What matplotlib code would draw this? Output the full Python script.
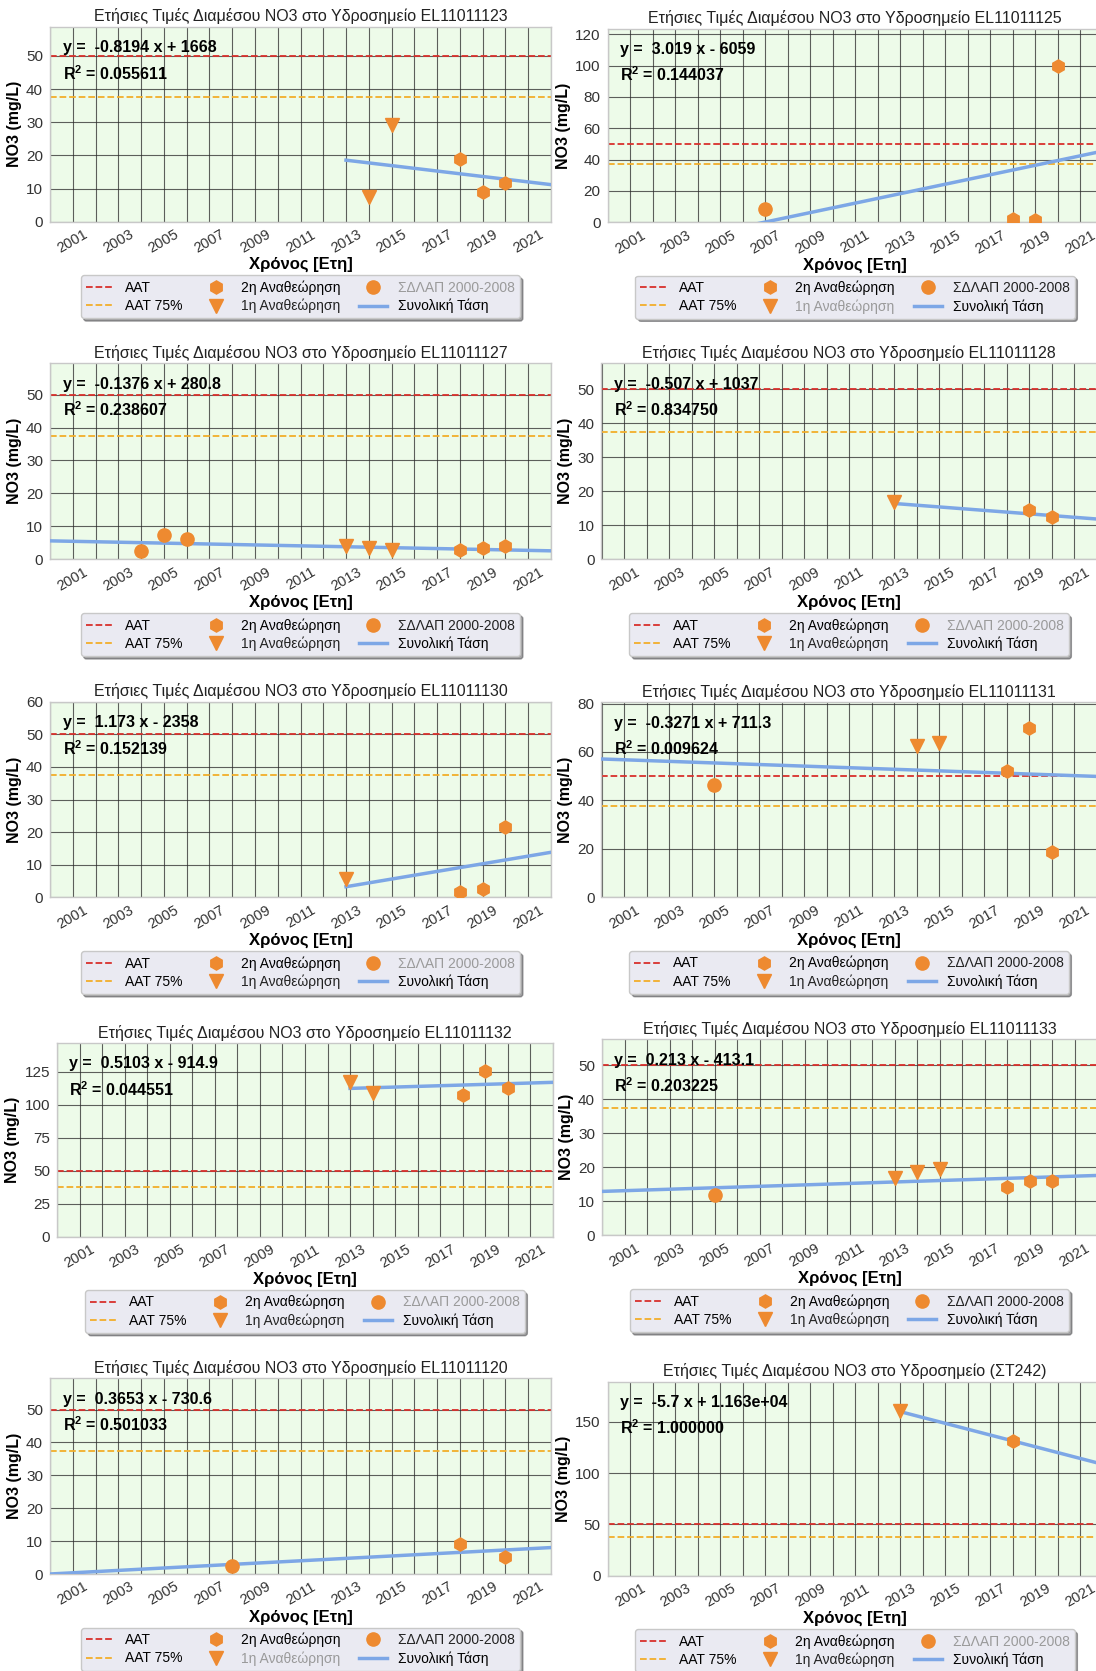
import numpy as np
import matplotlib
matplotlib.use('Agg')
import matplotlib.pyplot as plt
from matplotlib.lines import Line2D

plt.rcParams['font.family'] = ['Liberation Sans', 'DejaVu Sans']
plt.rcParams['mathtext.fontset'] = 'custom'
plt.rcParams['mathtext.rm'] = 'Liberation Sans'
plt.rcParams['mathtext.default'] = 'regular'

# stations, in drawing order (left/right, top to bottom)
stations = ['EL11011123', 'EL11011125', 'EL11011127', 'EL11011128', 'EL11011130',
            'EL11011131', 'EL11011132', 'EL11011133', 'EL11011120', '(ΣΤ242)']

# ΣΔΛΑΠ 2000-2008 medians
sdlap_years = {'EL11011125': [2007], 'EL11011127': [2004, 2005, 2006],
               'EL11011131': [2005], 'EL11011133': [2005], 'EL11011120': [2008]}
sdlap_vals = {'EL11011125': [8.3], 'EL11011127': [2.55, 7.45, 6.2],
              'EL11011131': [46.4], 'EL11011133': [11.9], 'EL11011120': [2.45]}

# 1st revision medians
rev1_years = {'EL11011123': [2014, 2015], 'EL11011127': [2013, 2014, 2015],
              'EL11011128': [2013], 'EL11011130': [2013], 'EL11011131': [2014, 2015],
              'EL11011132': [2013, 2014], 'EL11011133': [2013, 2014, 2015], '(ΣΤ242)': [2013]}
rev1_vals = {'EL11011123': [7.3, 29.2], 'EL11011127': [4.0, 3.4, 2.75],
             'EL11011128': [16.9], 'EL11011130': [5.6], 'EL11011131': [62.4, 63.7],
             'EL11011132': [117.4, 108.8], 'EL11011133': [16.8, 18.5, 19.4], '(ΣΤ242)': [160.0]}

# 2nd revision medians
rev2_years = {'EL11011123': [2018, 2019, 2020], 'EL11011125': [2018, 2019, 2020],
              'EL11011127': [2018, 2019, 2020], 'EL11011128': [2019, 2020],
              'EL11011130': [2018, 2019, 2020], 'EL11011131': [2018, 2019, 2020],
              'EL11011132': [2018, 2019, 2020], 'EL11011133': [2018, 2019, 2020],
              'EL11011120': [2018, 2020], '(ΣΤ242)': [2018]}
rev2_vals = {'EL11011123': [19.0, 8.9, 11.65], 'EL11011125': [2.1, 1.5, 100.0],
             'EL11011127': [2.95, 3.55, 4.0], 'EL11011128': [14.5, 12.45],
             'EL11011130': [1.5, 2.55, 21.5], 'EL11011131': [52.1, 69.8, 18.5],
             'EL11011132': [107.6, 125.8, 112.9], 'EL11011133': [14.3, 16.1, 15.9],
             'EL11011120': [9.0, 5.3], '(ΣΤ242)': [131.5]}

# linear trend of each station
slope = [-0.8194, 3.019, -0.1376, -0.507, 1.173, -0.3271, 0.5103, 0.213, 0.3653, -5.7]
intercept = [1668, -6059, 280.8, 1037, -2358, 711.3, -914.9, -413.1, -730.6, 11634]
r_squared = [0.055611, 0.144037, 0.238607, 0.834750, 0.152139,
             0.009624, 0.044551, 0.203225, 0.501033, 1.000000]
trend_start = [2013, 2000, 2000, 2013, 2013, 2000, 2013, 2000, 2000, 2013]

# y axis range and tick step
y_top = [58.7, 123.4, 59.5, 57.6, 60, 80.5, 146.5, 57.6, 59.5, 189]
y_step = [10, 20, 10, 10, 10, 20, 25, 10, 10, 50]

AAT = 50
AAT_75 = 0.75 * AAT
year_min, year_max = 2000, 2022

# axes boxes in pixels: left, top, right, bottom
W, H = 1096, 1671
boxes = [(50, 27, 551, 221.7), (607.5, 29, 1102.5, 222.3),
         (50, 363.3, 551, 559.3), (601.5, 363.3, 1096.5, 559.3),
         (50, 701.7, 551, 897.3), (601.5, 702.3, 1096.5, 897.3),
         (57, 1043.3, 553, 1236.7), (602, 1039.3, 1097, 1235.3),
         (50, 1378.3, 551, 1574), (607.5, 1381.7, 1102.5, 1575.7)]

orange = '#EE8A30'
blue = '#7DA7E6'
red = '#D8302C'
yellow = '#F2AE2A'
facecolor = '#EDFBE9'

fig = plt.figure(figsize=(W / 100, H / 100), dpi=100)

for i, st in enumerate(stations):
    l, t, r, b = boxes[i]
    ax = fig.add_axes([l / W, 1 - b / H, (r - l) / W, (b - t) / H])
    ax.set_facecolor(facecolor)

    ax.axhline(AAT, color=red, ls='--', lw=1.3, zorder=2)
    ax.axhline(AAT_75, color=yellow, ls='--', lw=1.3, zorder=2)

    xt = np.array([trend_start[i], year_max])
    ax.plot(xt, slope[i] * xt + intercept[i], color=blue, lw=2.5, zorder=3)

    has_sdlap = st in sdlap_years
    has_rev1 = st in rev1_years
    if has_sdlap:
        ax.plot(sdlap_years[st], sdlap_vals[st], ls='none', marker='o', ms=9.5,
                color=orange, zorder=4)
    if has_rev1:
        ax.plot(rev1_years[st], rev1_vals[st], ls='none', marker='v', ms=9.5,
                color=orange, zorder=4)
    ax.plot(rev2_years[st], rev2_vals[st], ls='none', marker='h', ms=9.5,
            color=orange, zorder=4)

    ax.set_xlim(year_min, year_max)
    ax.set_ylim(0, y_top[i])
    ax.set_yticks(np.arange(0, y_top[i] + 0.01, y_step[i]))
    ax.set_xticks(range(2001, 2022, 2))
    ax.set_xticks(range(2000, 2023, 2), minor=True)
    ax.tick_params(axis='x', which='both', length=0, labelsize=10.5,
                   labelcolor='#333333', labelrotation=30, pad=4)
    ax.tick_params(axis='y', length=0, labelsize=11, labelcolor='#333333', pad=5)
    ax.grid(True, which='both', axis='x', color='#2b2b2b', lw=0.8, alpha=0.75, zorder=1)
    ax.grid(True, which='major', axis='y', color='#2b2b2b', lw=0.8, alpha=0.75, zorder=1)
    ax.set_axisbelow(True)
    for sp in ax.spines.values():
        sp.set_color('#c8c8c8')
        sp.set_linewidth(1.0)

    ax.set_title('Ετήσιες Τιμές Διαμέσου NO3 στο Υδροσημείο ' + st,
                 fontsize=11.5, color='#222222', pad=4)
    ax.set_xlabel('Χρόνος [Ετη]', fontsize=12, fontweight='bold', labelpad=1)
    ax.set_ylabel('NO3 (mg/L)', fontsize=11.5, fontweight='bold', labelpad=3)

    sign = '+' if intercept[i] >= 0 else '-'
    eq = 'y =  %.4g x %s %.4g' % (slope[i], sign, abs(intercept[i]))
    ax.text(0.025, 0.893, eq, transform=ax.transAxes, fontsize=11.5,
            fontweight='bold', va='center', ha='left', zorder=5)
    ax.text(0.025, 0.762, 'R$^2$ = %.6f' % r_squared[i], transform=ax.transAxes,
            fontsize=11.5, fontweight='bold', va='center', ha='left', zorder=5)

    handles = [
        Line2D([], [], color=red, ls='--', lw=1.3),
        Line2D([], [], color=yellow, ls='--', lw=1.3),
        Line2D([], [], ls='none', marker='h', ms=9.5, color=orange),
        Line2D([], [], ls='none', marker='v', ms=9.5, color=orange),
        Line2D([], [], ls='none', marker='o', ms=9.5, color=orange),
        Line2D([], [], color=blue, lw=2.5),
    ]
    labels = ['ΑΑΤ', 'ΑΑΤ 75%', '2η Αναθεώρηση', '1η Αναθεώρηση',
              'ΣΔΛΑΠ 2000-2008', 'Συνολική Τάση']
    leg = ax.legend(handles, labels, ncol=3, loc='upper center',
                    bbox_to_anchor=(0.5, -0.24), fontsize=10, frameon=True,
                    facecolor='#EAEAF2', edgecolor='#c8c8c8', framealpha=1,
                    shadow=True, handlelength=2.0, columnspacing=1.4,
                    borderpad=0.35, labelspacing=0.3)
    texts = leg.get_texts()
    texts[3].set_color('#222222' if has_rev1 else '#9a9a9a')
    texts[4].set_color('#222222' if has_sdlap else '#9a9a9a')

fig.savefig('out.png', dpi=100, facecolor='white')
